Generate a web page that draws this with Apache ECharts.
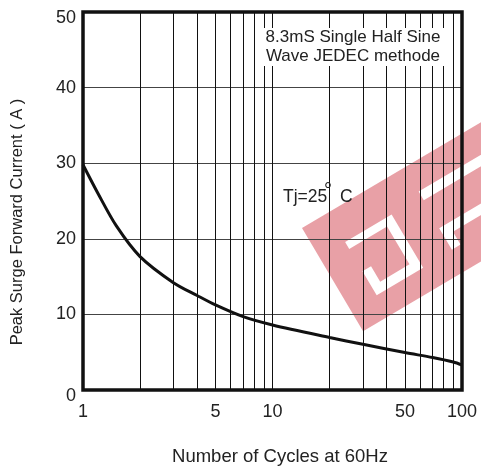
<!DOCTYPE html>
<html>
<head>
<meta charset="utf-8">
<script src="https://cdn.jsdelivr.net/npm/echarts@6/dist/echarts.min.js"></script>
<style>
  html, body { margin: 0; padding: 0; background: #fff; }
  #chart { width: 481px; height: 468px; }
</style>
</head>
<body>
<div id="chart"></div>
<script>
// ---- data ----
const cycles  = [1, 1.2, 1.5, 2, 3, 4, 5, 7, 10, 20, 30, 50, 70, 90, 100];
const current = [29.8, 26.0, 21.7, 17.65, 14.2, 12.5, 11.25, 9.7, 8.6, 6.95, 6.05, 4.95, 4.3, 3.7, 3.3];
const gridCycles = [2, 3, 4, 5, 6, 7, 8, 9, 10, 20, 30, 40, 50, 60, 70, 80, 90];
const xTickLabels = [1, 5, 10, 50, 100];
const yTicks = [0, 10, 20, 30, 40, 50];
const noteLines = ['8.3mS Single Half Sine', 'Wave JEDEC methode'];
const xTitle = 'Number of Cycles at 60Hz';
const yTitle = 'Peak Surge Forward Current ( A )';

const FONT = "'Liberation Sans', Arial, sans-serif";
const TXT = '#222';

const chart = echarts.init(document.getElementById('chart'), null, { renderer: 'canvas' });

// watermark outline (local frame), holes joined by zero-width slits
const wmPoints = [
  [0, 0],
  [30, 34], [84, 34], [84, 96], [30, 96], [30, 68], [40, 68], [40, 86], [74, 86], [74, 42], [30, 42], [30, 34],
  [0, 0],
  [119, 28], [250, 28], [250, 38], [119, 38], [119, 28],
  [0, 0],
  [118, 70], [250, 70], [250, 80], [128, 80], [128, 95], [118, 95], [118, 70],
  [0, 0],
  [0, 120], [258, 120], [258, 0]
];

const option = {
  animation: false,
  backgroundColor: '#fff',
  grid: {
    left: 83, right: 19, top: 12, bottom: 78,
    show: true, borderColor: '#111', borderWidth: 3.5, backgroundColor: 'transparent', z: 5
  },
  xAxis: {
    type: 'log', logBase: 10, min: 1, max: 100,
    axisLine: { show: false },
    axisTick: { show: false },
    splitLine: { show: false },
    axisLabel: {
      customValues: xTickLabels,
      margin: 13,
      fontSize: 18, color: TXT, fontFamily: FONT,
      formatter: v => String(v)
    }
  },
  yAxis: {
    type: 'value', min: 0, max: 50, interval: 10,
    axisLine: { show: false },
    axisTick: { show: false },
    splitLine: { show: true, lineStyle: { color: '#444', width: 1 } },
    axisLabel: {
      margin: 7, fontSize: 18, color: TXT, fontFamily: FONT,
      formatter: v => {
        if (yTicks.indexOf(v) < 0) return '';
        if (v === yTicks[0] || v === yTicks[yTicks.length - 1]) return '{low|' + v + '}';
        return String(v);
      },
      rich: {
        low: { fontSize: 18, color: TXT, fontFamily: FONT, lineHeight: 30, verticalAlign: 'bottom' }
      }
    }
  },
  series: [{
    type: 'line',
    data: cycles.map((c, i) => [c, current[i]]),
    smooth: 0.3,
    symbol: 'none',
    lineStyle: { color: '#111', width: 3 },
    z: 3,
    markLine: {
      silent: true,
      symbol: ['none', 'none'],
      label: { show: false },
      lineStyle: { color: '#111', width: 1, type: 'solid' },
      emphasis: { disabled: true },
      data: gridCycles.map(v => ({ xAxis: v }))
    }
  }],
  graphic: [
    { type: 'rect', shape: { x: 262, y: 28, width: 184, height: 38 }, style: { fill: '#fff' }, z: 50, silent: true },
    { type: 'text', x: 353, y: 37.7, z: 51, silent: true,
      style: { text: noteLines[0], fontSize: 17, fontFamily: FONT, fill: TXT, textAlign: 'center', textVerticalAlign: 'middle' } },
    { type: 'text', x: 353, y: 56.2, z: 51, silent: true,
      style: { text: noteLines[1], fontSize: 17, fontFamily: FONT, fill: TXT, textAlign: 'center', textVerticalAlign: 'middle' } },
    { type: 'text', x: 283, y: 197, z: 51, silent: true,
      style: { text: 'Tj=25', fontSize: 17.5, fontFamily: FONT, fill: TXT, textAlign: 'left', textVerticalAlign: 'middle' } },
    { type: 'text', x: 324, y: 191.5, z: 51, silent: true,
      style: { text: '°', fontSize: 20, fontFamily: FONT, fill: TXT, textAlign: 'left', textVerticalAlign: 'middle' } },
    { type: 'text', x: 340, y: 197, z: 51, silent: true,
      style: { text: 'C', fontSize: 17.5, fontFamily: FONT, fill: TXT, textAlign: 'left', textVerticalAlign: 'middle' } },
    { type: 'text', x: 280, y: 457, z: 51, silent: true,
      style: { text: xTitle, fontSize: 18.5, fontFamily: FONT, fill: TXT, textAlign: 'center', textVerticalAlign: 'middle' } },
    { type: 'text', x: 17, y: 222, rotation: Math.PI / 2, z: 51, silent: true,
      style: { text: yTitle, fontSize: 16.5, fontFamily: FONT, fill: TXT, textAlign: 'center', textVerticalAlign: 'middle' } },
    { type: 'group', x: 302, y: 228, rotation: 30.6 * Math.PI / 180, z: 100, silent: true,
      children: [{
        type: 'polygon',
        shape: { points: wmPoints },
        style: { fill: 'rgba(200,29,43,0.42)' }
      }]
    }
  ]
};
chart.setOption(option);
</script>
</body>
</html>
